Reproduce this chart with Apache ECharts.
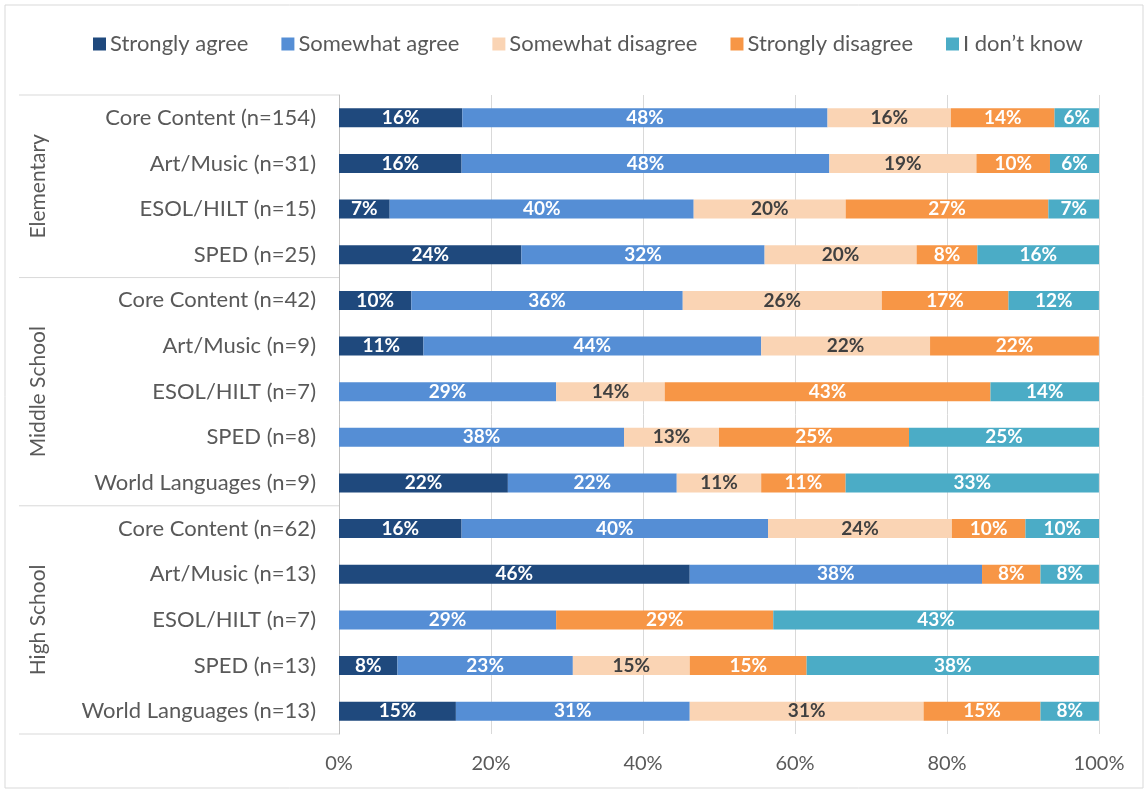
<!DOCTYPE html>
<html>
<head>
<meta charset="utf-8">
<script src="https://cdn.jsdelivr.net/npm/echarts@6/dist/echarts.min.js"></script>
<style>
  html, body { margin: 0; padding: 0; background: #fff; }
  #chart { width: 1148px; height: 793px; }
</style>
</head>
<body>
<div id="chart"></div>
<script>
// categories, top to bottom
var categories = [
  'Core Content (n=154)', 'Art/Music (n=31)', 'ESOL/HILT (n=15)', 'SPED (n=25)',
  'Core Content (n=42)', 'Art/Music (n=9)', 'ESOL/HILT (n=7)', 'SPED (n=8)', 'World Languages (n=9)',
  'Core Content (n=62)', 'Art/Music (n=13)', 'ESOL/HILT (n=7)', 'SPED (n=13)', 'World Languages (n=13)'
];
var groupNames = ['Elementary', 'Middle School', 'High School'];
var groupSizes = [4, 5, 5];

var seriesNames = ['Strongly agree', 'Somewhat agree', 'Somewhat disagree', 'Strongly disagree', 'I don\u2019t know'];
var colors = ['#1f497d', '#558ed5', '#fad4b4', '#f79646', '#4bacc6'];

// percent of respondents (null = no answer in that bucket)
var stronglyAgree    = [16.23, 16.13, 6.67, 24, 9.52, 11.11, null, null, 22.22, 16.13, 46.15, null, 7.69, 15.38];
var somewhatAgree    = [48.05, 48.39, 40, 32, 35.71, 44.44, 28.57, 37.5, 22.22, 40.32, 38.46, 28.57, 23.08, 30.77];
var somewhatDisagree = [16.23, 19.35, 20, 20, 26.19, 22.22, 14.29, 12.5, 11.11, 24.19, null, null, 15.38, 30.77];
var stronglyDisagree = [13.64, 9.68, 26.67, 8, 16.67, 22.22, 42.86, 25, 11.11, 9.68, 7.69, 28.57, 15.38, 15.38];
var dontKnow         = [5.84, 6.45, 6.67, 16, 11.9, null, 14.29, 25, 33.33, 9.68, 7.69, 42.86, 38.46, 7.69];

var xTicks = [0, 20, 40, 60, 80, 100];

var FONT = 'Lato';
var seriesData = [stronglyAgree, somewhatAgree, somewhatDisagree, stronglyDisagree, dontKnow];

var chart = echarts.init(document.getElementById('chart'));

var option = {
  animation: false,
  textStyle: { fontFamily: FONT },
  color: colors,
  legend: {
    top: 28,
    left: 88,
    itemWidth: 13,
    itemHeight: 13,
    itemGap: 33,
    icon: 'rect',
    textStyle: { fontSize: 22, color: '#595959', fontFamily: FONT, padding: [0, 0, 0, -1] },
    data: seriesNames
  },
  grid: { left: 339, right: 49, top: 95, bottom: 59 },
  xAxis: {
    type: 'value',
    min: xTicks[0],
    max: xTicks[xTicks.length - 1],
    interval: 20,
    axisLine: { show: false },
    axisTick: { show: false },
    splitLine: { lineStyle: { color: '#d9d9d9', width: 1 } },
    axisLabel: { formatter: '{value}%', fontSize: 20, color: '#595959', margin: 20 }
  },
  yAxis: {
    type: 'category',
    inverse: true,
    data: categories,
    axisLine: { lineStyle: { color: '#bfbfbf' } },
    axisTick: { show: false },
    axisLabel: { fontSize: 22, color: '#595959', margin: 23 }
  },
  series: seriesNames.map(function (name, i) {
    return {
      name: name,
      type: 'bar',
      stack: 'total',
      barWidth: 19,
      data: seriesData[i],
      itemStyle: { color: colors[i] },
      label: {
        show: true,
        position: 'inside',
        fontSize: 19,
        fontWeight: 'bold',
        color: i === 2 ? '#404040' : '#ffffff',
        formatter: function (p) {
          return p.value == null ? '' : Math.round(p.value) + '%';
        }
      }
    };
  })
};
chart.setOption(option);

// group labels and separator lines on the left of the category axis
var graphics = [{
  type: 'rect',
  shape: { x: 5, y: 5, width: 1138, height: 783 },
  style: { fill: 'none', stroke: '#d9d9d9', lineWidth: 1 },
  silent: true
}];
var bandH = (chart.getHeight() - 95 - 59) / categories.length;
var start = 0;
var axisX = chart.convertToPixel({ gridIndex: 0 }, [0, 0])[0];
for (var g = 0; g < groupNames.length; g++) {
  var topY = chart.convertToPixel({ yAxisIndex: 0 }, start) - bandH / 2;
  var endIdx = start + groupSizes[g] - 1;
  var botY = chart.convertToPixel({ yAxisIndex: 0 }, endIdx) + bandH / 2;
  if (g === 0) {
    graphics.push({ type: 'line', shape: { x1: 19, y1: topY, x2: axisX, y2: topY }, style: { stroke: '#d9d9d9', lineWidth: 1 }, silent: true });
  }
  graphics.push({ type: 'line', shape: { x1: 19, y1: botY, x2: axisX, y2: botY }, style: { stroke: '#d9d9d9', lineWidth: 1 }, silent: true });
  graphics.push({
    type: 'text',
    x: 38,
    y: (topY + botY) / 2,
    rotation: Math.PI / 2,
    style: { text: groupNames[g], fontSize: 21, fill: '#595959', fontFamily: FONT, align: 'center', verticalAlign: 'middle' },
    silent: true
  });
  start += groupSizes[g];
}
chart.setOption({ graphic: graphics });
</script>
</body>
</html>
